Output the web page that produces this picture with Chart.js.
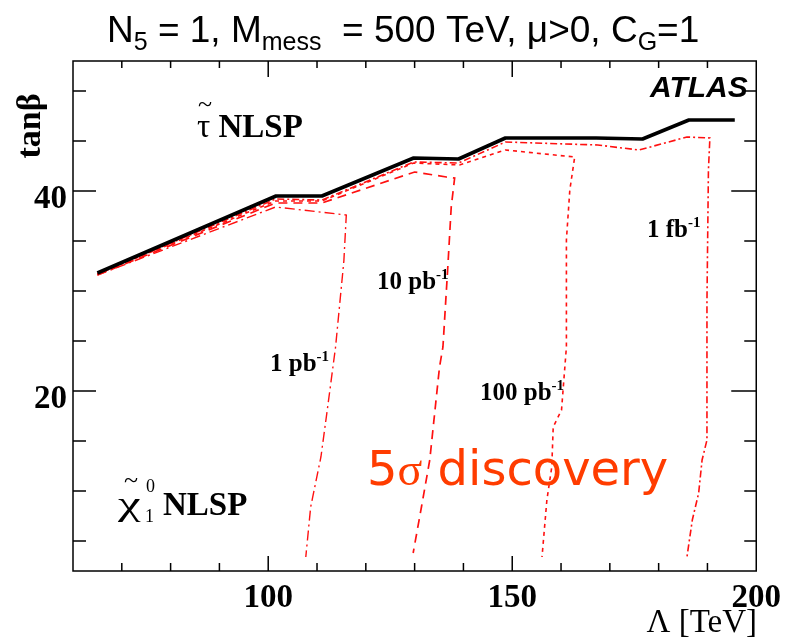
<!DOCTYPE html>
<html>
<head>
<meta charset="utf-8">
<script src="https://cdn.jsdelivr.net/npm/chart.js@4.4.1/dist/chart.umd.min.js"></script>
<style>
  html, body { margin: 0; padding: 0; background: #fff; }
  #wrap { width: 789px; height: 641px; }
</style>
</head>
<body>
<div id="wrap"><canvas id="gmsb" width="789" height="641"></canvas></div>
<script>
// ── Data ────────────────────────────────────────────────────────────────
// stau / neutralino NLSP boundary
const boundaryL = [65, 101.6, 111, 129.8, 139, 148.6, 167.2, 176.7, 186.2, 195.6];
const boundaryT = [31.8, 39.5, 39.5, 43.3, 43.2, 45.3, 45.3, 45.2, 47.1, 47.1];

// 5 sigma discovery contours
const pb1L  = [65, 101.5, 116, 115.5, 113.8, 112.1, 110.8, 108.7, 107.7];
const pb1T  = [31.6, 38.4, 37.6, 33, 24.4, 18.1, 13.4, 8.4, 3.4];

const pb10L = [65, 101.5, 111, 130, 136.5, 138.2, 137.5, 136.8, 135.8, 135.1, 133.1, 131.4, 129.7];
const pb10T = [31.6, 38.8, 38.8, 41.9, 41.4, 41.3, 38.4, 32.4, 24.4, 22.4, 13.1, 8.4, 3.8];

const pb100L = [65, 101.5, 111, 129.8, 139.2, 148.6, 162.8, 161.8, 161.1, 161.1, 160.1, 158.4, 158.1, 157.1, 156.1];
const pb100T = [31.7, 39.0, 39.0, 42.8, 42.6, 44.1, 43.4, 40.1, 35.1, 24.4, 18.1, 16.4, 12.4, 9.1, 3.4];

const fb1L = [65, 101.5, 111, 129.8, 139, 148.6, 167.5, 176, 185.8, 190.5, 190.2, 189.9, 189.9, 188.9, 188.2, 186.9, 185.8];
const fb1T = [31.7, 39.2, 39.1, 42.9, 42.8, 44.9, 44.6, 44.1, 45.4, 45.3, 42.1, 29, 15.1, 13.1, 9.8, 7.1, 3.4];

const xTickValues = [100, 150, 200];
const yTickValues = [20, 40];

// ── Helpers ─────────────────────────────────────────────────────────────
const SERIF = '"Liberation Serif", "Times New Roman", serif';
const SANS  = '"Liberation Sans", Arial, sans-serif';
const RED   = '#ff1010';

function pts(xs, ys) {
  return xs.map((x, i) => ({ x, y: ys[i] }));
}

function contour(xs, ys, dash, width) {
  return {
    data: pts(xs, ys),
    showLine: true,
    borderColor: RED,
    borderWidth: width || 1.6,
    borderDash: dash,
    pointRadius: 0,
    tension: 0,
    fill: false,
  };
}

// draws a run of [text, font, dy] pieces left to right
function drawRun(ctx, x, y, pieces, color) {
  ctx.fillStyle = color || '#000';
  ctx.textAlign = 'left';
  ctx.textBaseline = 'alphabetic';
  pieces.forEach(([t, font, dy]) => {
    ctx.font = font;
    ctx.fillText(t, x, y + (dy || 0));
    x += ctx.measureText(t).width;
  });
  return x;
}

// ── Frame, inward ticks and annotations ─────────────────────────────────
const framePlugin = {
  id: 'frame',
  afterDraw(chart) {
    const { ctx, chartArea: a, scales: { x, y } } = chart;
    ctx.save();
    ctx.strokeStyle = '#000';
    ctx.lineWidth = 1.5;
    ctx.strokeRect(a.left, a.top, a.right - a.left, a.bottom - a.top);

    ctx.beginPath();
    for (let v = 70; v < 200; v += 10) {
      const px = x.getPixelForValue(v);
      const major = v % 50 === 0;
      ctx.moveTo(px, a.bottom); ctx.lineTo(px, a.bottom - (major ? 15 : 8));
      ctx.moveTo(px, a.top);    ctx.lineTo(px, a.top + (major ? 16 : 7));
    }
    for (let v = 5; v <= 50; v += 5) {
      const py = y.getPixelForValue(v);
      const major = v % 20 === 0;
      ctx.moveTo(a.left, py);  ctx.lineTo(a.left + (major ? 23 : 13), py);
      ctx.moveTo(a.right, py); ctx.lineTo(a.right - (major ? 25 : 12), py);
    }
    ctx.stroke();

    // title
    const big = '37px ' + SANS, sub = '25px ' + SANS;
    drawRun(ctx, 107, 42, [
      ['N', big], ['5', sub, 8], [' = 1, M', big], ['mess', sub, 8],
      ['  = 500 TeV, \u03bc>0, C', big], ['G', sub, 8], ['=1', big],
    ]);

    // axis titles
    ctx.font = '33px ' + SERIF;
    ctx.textAlign = 'right';
    ctx.fillText('\u039b [TeV]', 757, 632);
    ctx.save();
    ctx.translate(40, 126);
    ctx.rotate(-Math.PI / 2);
    ctx.font = 'bold 34px ' + SERIF;
    ctx.textAlign = 'center';
    ctx.fillText('tan\u03b2', 0, 0);
    ctx.restore();

    // ATLAS
    ctx.font = 'italic bold 30px ' + SANS;
    ctx.textAlign = 'left';
    ctx.fillText('ATLAS', 650, 97);

    // NLSP regions
    const nl = 'bold 33px ' + SERIF;
    drawRun(ctx, 197, 137, [['\u03c4', '33px ' + SERIF], [' NLSP', nl]]);
    ctx.font = '26px ' + SERIF;
    ctx.textAlign = 'center';
    ctx.fillText('~', 205, 112);

    // neutralino symbol, widened like a symbol-font chi
    ctx.save();
    ctx.translate(118, 515);
    ctx.scale(1.5, 1);
    ctx.font = '34px ' + SERIF;
    ctx.textAlign = 'left';
    ctx.fillText('\u03c7', 0, 0);
    ctx.restore();
    ctx.font = '26px ' + SERIF;
    ctx.textAlign = 'center';
    ctx.fillText('~', 131, 488);
    ctx.textAlign = 'left';
    ctx.font = '18px ' + SERIF;
    ctx.fillText('1', 145, 522);
    ctx.fillText('0', 146, 492);
    drawRun(ctx, 163, 515, [['NLSP', nl]]);

    // luminosity labels
    const lf = 'bold 25px ' + SERIF, sf = 'bold 15px ' + SERIF;
    drawRun(ctx, 270, 371, [['1 pb', lf], ['-1', sf, -10]]);
    drawRun(ctx, 377, 289, [['10 pb', lf], ['-1', sf, -10]]);
    drawRun(ctx, 480, 400, [['100 pb', lf], ['-1', sf, -10]]);
    drawRun(ctx, 647, 237, [['1 fb', lf], ['-1', sf, -10]]);

    // discovery note
    drawRun(ctx, 367, 485, [
      ['5', '48px "DejaVu Sans", sans-serif'],
      ['\u03c3', '46px ' + SERIF],
      [' discovery', '48px "DejaVu Sans", sans-serif'],
    ], '#ff3c00');
    ctx.restore();
  },
};

// ── Chart ───────────────────────────────────────────────────────────────
const tickFont = { family: SERIF, size: 33, weight: 'bold' };

new Chart(document.getElementById('gmsb'), {
  type: 'scatter',
  data: {
    datasets: [
      {
        data: pts(boundaryL, boundaryT),
        showLine: true,
        borderColor: '#000',
        borderWidth: 3.6,
        pointRadius: 0,
        tension: 0,
        borderJoinStyle: 'round',
      },
      contour(fb1L, fb1T, [7, 3, 2, 3]),
      contour(pb100L, pb100T, [4, 4]),
      contour(pb10L, pb10T, [9, 6], 1.7),
      contour(pb1L, pb1T, [10, 4, 2, 4], 1.4),
    ],
  },
  options: {
    responsive: false,
    animation: false,
    devicePixelRatio: 1,
    layout: { padding: { top: 61, right: 26, left: 0, bottom: 0 } },
    plugins: { legend: { display: false }, tooltip: { enabled: false } },
    scales: {
      x: {
        type: 'linear',
        min: 60,
        max: 200,
        grid: { display: false, drawTicks: false },
        border: { display: false },
        afterBuildTicks: s => { s.ticks = xTickValues.map(v => ({ value: v })); },
        afterFit: s => { s.height = 70; },
        ticks: { font: tickFont, color: '#000', padding: 8, maxRotation: 0, autoSkip: false },
      },
      y: {
        type: 'linear',
        min: 2,
        max: 53,
        grid: { display: false, drawTicks: false },
        border: { display: false },
        afterBuildTicks: s => { s.ticks = yTickValues.map(v => ({ value: v })); },
        afterFit: s => { s.width = 73; },
        ticks: { font: tickFont, color: '#000', padding: 6, labelOffset: 8 },
      },
    },
  },
  plugins: [framePlugin],
});
</script>
</body>
</html>
